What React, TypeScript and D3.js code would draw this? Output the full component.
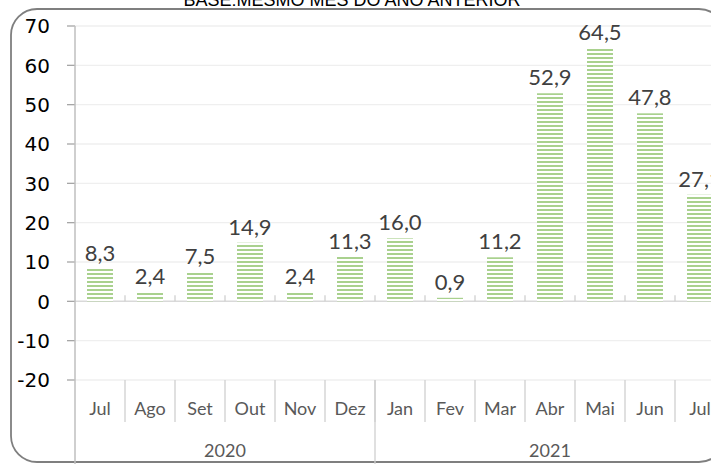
import React from "react";
import * as d3 from "d3";

const months = ["Jul", "Ago", "Set", "Out", "Nov", "Dez", "Jan", "Fev", "Mar", "Abr", "Mai", "Jun", "Jul"];
const years = ["2020", "2021"];
const yearCounts = [6, 7];
const values = [8.3, 2.4, 7.5, 14.9, 2.4, 11.3, 16.0, 0.9, 11.2, 52.9, 64.5, 47.8, 27.1];
const yTicks = [-20, -10, 0, 10, 20, 30, 40, 50, 60, 70];
const title = "BASE:MESMO MÊS DO ANO ANTERIOR";

const W = 711;
const H = 464;
const left = 75;
const catW = 50;

export default function App() {
  const y = d3.scaleLinear().domain([-20, 70]).range([380, 26]);
  const x = d3
    .scaleBand<number>()
    .domain(d3.range(months.length))
    .range([left, left + catW * months.length])
    .paddingInner(0.48)
    .paddingOuter(0.24);
  const fmt = (v: number) => v.toFixed(1).replace(".", ",");
  const y0 = y(0);
  const bottom = y(-20);
  let acc = 0;
  const yearBounds = yearCounts.map((c) => {
    const s = acc;
    acc += c;
    return [s, acc];
  });

  return (
    <svg
      width={W}
      height={H}
      style={{ position: "absolute", left: 0, top: 0, background: "#fff" }}
    >
      <defs>
        <pattern id="stripes" width={6} height={4} patternUnits="userSpaceOnUse">
          <rect width={6} height={4} fill="#ffffff" />
          <rect y={1} width={6} height={2} fill="#a9d18e" />
        </pattern>
      </defs>
      <rect x={0} y={0} width={W} height={H} fill="#fff" />
      <rect
        x={11}
        y={9}
        width={714}
        height={453}
        rx={26}
        ry={26}
        fill="none"
        stroke="#7f7f7f"
        strokeWidth={1.8}
      />
      <text
        x={352}
        y={6}
        textAnchor="middle"
        fontFamily="Liberation Sans, Arial, sans-serif"
        fontSize={18}
        fill="#000"
      >
        {title}
      </text>
      {yTicks.map((t) => (
        <g key={t}>
          <line
            x1={left}
            x2={W + 20}
            y1={y(t)}
            y2={y(t)}
            stroke={t === 0 ? "#d9d9d9" : "#efefef"}
            strokeWidth={t === 0 ? 1.5 : 1.3}
          />
          <line x1={left - 8} x2={left} y1={y(t)} y2={y(t)} stroke="#a6a6a6" strokeWidth={1.3} />
          <text
            x={50}
            y={y(t)}
            dy="0.36em"
            textAnchor="end"
            fontFamily="DejaVu Sans, sans-serif"
            fontSize={20}
            fill="#000"
          >
            {t}
          </text>
        </g>
      ))}
      {values.map((v, i) => (
        <g key={i}>
          <rect
            x={x(i)}
            y={y(Math.max(0, v))}
            width={x.bandwidth()}
            height={Math.abs(y(v) - y0)}
            fill="url(#stripes)"
          />
          <text
            x={(x(i) as number) + x.bandwidth() / 2}
            y={y(v) - 8}
            textAnchor="middle"
            fontFamily="Lato, Open Sans, sans-serif"
            fontSize={22}
            fill="#404040"
          >
            {fmt(v)}
          </text>
        </g>
      ))}
      {d3.range(1, months.length + 1).map((i) => (
        <g key={"sep" + i}>
          <line
            x1={left + i * catW}
            x2={left + i * catW}
            y1={y0 - 6}
            y2={y0}
            stroke="#d0d0d0"
            strokeWidth={1.3}
          />
          <line
            x1={left + i * catW}
            x2={left + i * catW}
            y1={bottom}
            y2={422}
            stroke="#d0d0d0"
            strokeWidth={1.3}
          />
        </g>
      ))}
      {months.map((m, i) => (
        <text
          key={"m" + i}
          x={left + i * catW + catW / 2}
          y={415}
          textAnchor="middle"
          fontFamily="Lato, Open Sans, sans-serif"
          fontSize={18}
          fill="#595959"
        >
          {m}
        </text>
      ))}
      {yearBounds.map(([s, e], k) => (
        <g key={"y" + k}>
          <line
            x1={left + e * catW}
            x2={left + e * catW}
            y1={bottom}
            y2={H}
            stroke="#d0d0d0"
            strokeWidth={1.3}
          />
          <text
            x={left + ((s + e) / 2) * catW}
            y={457}
            textAnchor="middle"
            fontFamily="Lato, Open Sans, sans-serif"
            fontSize={18}
            fill="#595959"
          >
            {years[k]}
          </text>
        </g>
      ))}
      <line x1={left} x2={left} y1={y(70)} y2={H} stroke="#bfbfbf" strokeWidth={1.5} />
    </svg>
  );
}
